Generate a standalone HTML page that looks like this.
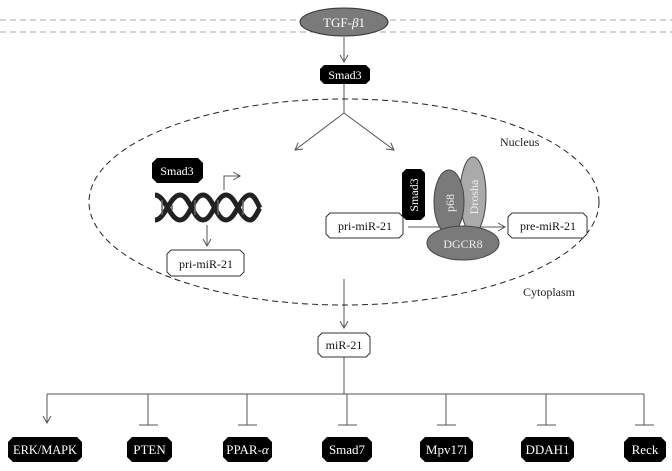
<!DOCTYPE html>
<html><head><style>body{margin:0;background:#fff}svg{display:block}text{font-family:"Liberation Serif",serif}</style></head><body>
<svg width="672" height="471" viewBox="0 0 672 471" xmlns="http://www.w3.org/2000/svg">
<defs>
<marker id="a" markerWidth="10" markerHeight="10" refX="8" refY="5" orient="auto" markerUnits="userSpaceOnUse"><path d="M1,1 L8,5 L1,9" fill="none" stroke="#555" stroke-width="1"/></marker>
</defs>
<g stroke="#aaa" stroke-dasharray="6,4" stroke-width="1"><line x1="0" y1="20" x2="672" y2="20"/><line x1="0" y1="32" x2="672" y2="32"/></g>
<ellipse cx="344" cy="22" rx="44" ry="14" fill="#7a7a7a" stroke="#333"/>
<text x="344" y="27" fill="#fff" font-size="13" text-anchor="middle">TGF-<tspan font-style="italic">β</tspan>1</text>
<g stroke="#555" fill="none" stroke-width="1">
<line x1="344" y1="37" x2="344" y2="62" marker-end="url(#a)"/>
<polyline points="344,84 344,113"/>
<line x1="344" y1="113" x2="295" y2="150" marker-end="url(#a)"/>
<line x1="344" y1="113" x2="394" y2="150" marker-end="url(#a)"/>
<polyline points="224,190 224,176 240,176" marker-end="url(#a)"/>
<line x1="207" y1="225" x2="207" y2="246" marker-end="url(#a)"/>
<line x1="408" y1="227" x2="505" y2="227" marker-end="url(#a)"/>
<line x1="344" y1="279" x2="344" y2="328" marker-end="url(#a)"/>
<polyline points="344,357 344,394"/>
<line x1="47" y1="394" x2="644" y2="394"/>
<line x1="47" y1="394" x2="47" y2="423" marker-end="url(#a)"/>
<g><line x1="148" y1="394" x2="148" y2="425"/><line x1="139" y1="425" x2="158" y2="425"/>
<line x1="247" y1="394" x2="247" y2="425"/><line x1="238" y1="425" x2="257" y2="425"/>
<line x1="347" y1="394" x2="347" y2="425"/><line x1="338" y1="425" x2="357" y2="425"/>
<line x1="446" y1="394" x2="446" y2="425"/><line x1="437" y1="425" x2="456" y2="425"/>
<line x1="546" y1="394" x2="546" y2="425"/><line x1="537" y1="425" x2="556" y2="425"/>
<line x1="644" y1="394" x2="644" y2="425"/><line x1="635" y1="425" x2="654" y2="425"/></g>
</g>
<ellipse cx="344" cy="202" rx="255" ry="103" fill="none" stroke="#222" stroke-dasharray="6,4"/>
<text x="500" y="146" font-size="12" fill="#222">Nucleus</text>
<text x="523" y="296" font-size="12" fill="#222">Cytoplasm</text>
<g fill="#000">
<path d="M324,65h42l4,4v11l-4,4h-42l-4,-4v-11z"/>
<path d="M157,158h41l5,5v15l-5,5h-41l-5,-5v-15z"/>
<path d="M406,169h15l4,4v43l-4,4h-15l-4,-4v-43z"/>
</g>
<text x="345" y="79" fill="#fff" font-size="12" text-anchor="middle">Smad3</text>
<text x="177" y="175" fill="#fff" font-size="12" text-anchor="middle">Smad3</text>
<text transform="translate(418,195) rotate(-90)" fill="#fff" font-size="12" text-anchor="middle">Smad3</text>
<g stroke="#222" stroke-width="5" fill="none">
<path d="M155,195 C165,195 170,220 180,220 C190,220 193,195 203,195 C213,195 216,220 226,220 C236,220 240,195 250,195 C255,195 258,205 260,208"/>
<path d="M155,220 C165,220 170,195 180,195 C190,195 193,220 203,220 C213,220 216,195 226,195 C236,195 240,220 250,220 C255,220 258,210 260,208"/>
</g>
<g stroke="#666" stroke-width="1.5" fill="none"><path d="M162,200v15M172,205v5M195,200v15M218,200v15M243,200v15"/></g>
<ellipse cx="473" cy="195" rx="13" ry="38" fill="#aaa" stroke="#444"/>
<ellipse cx="449" cy="202" rx="15" ry="32" fill="#7a7a7a" stroke="#444"/>
<ellipse cx="463" cy="243" rx="36" ry="17" fill="#7a7a7a" stroke="#444"/>
<text transform="translate(454,203) rotate(-90)" fill="#eee" font-size="12" text-anchor="middle">p68</text>
<text transform="translate(478,197) rotate(-90)" fill="#eee" font-size="12" text-anchor="middle">Drosha</text>
<text x="463" y="248" fill="#eee" font-size="12" text-anchor="middle">DGCR8</text>
<g fill="#fff" stroke="#333">
<path d="M171,250h69l4,4v18l-4,4h-69l-4,-4v-18z"/>
<path d="M330,213h69l4,4v17l-4,4h-69l-4,-4v-17z"/>
<path d="M512,213h71l4,4v17l-4,4h-71l-4,-4v-17z"/>
<path d="M322,333h44l4,4v16l-4,4h-44l-4,-4v-16z"/>
</g>
<g font-size="12" text-anchor="middle" fill="#111">
<text x="206" y="268">pri-miR-21</text>
<text x="365" y="230">pri-miR-21</text>
<text x="548" y="230">pre-miR-21</text>
<text x="344" y="349">miR-21</text>
</g>
<g fill="#000">
<path d="M13,437h64l5,5v15l-5,5h-64l-5,-5v-15z"/>
<path d="M132,437h35l5,5v15l-5,5h-35l-5,-5v-15z"/>
<path d="M228,437h39l5,5v15l-5,5h-39l-5,-5v-15z"/>
<path d="M327,437h40l5,5v15l-5,5h-40l-5,-5v-15z"/>
<path d="M425,437h43l5,5v15l-5,5h-43l-5,-5v-15z"/>
<path d="M526,437h43l5,5v15l-5,5h-43l-5,-5v-15z"/>
<path d="M629,437h32l5,5v15l-5,5h-32l-5,-5v-15z"/>
</g>
<g font-size="13" text-anchor="middle" fill="#fff">
<text x="45" y="454" textLength="64" lengthAdjust="spacingAndGlyphs">ERK/MAPK</text>
<text x="149.5" y="454">PTEN</text>
<text x="247.5" y="454">PPAR-<tspan font-style="italic">α</tspan></text>
<text x="347" y="454">Smad7</text>
<text x="446.5" y="454">Mpv17l</text>
<text x="547.5" y="454">DDAH1</text>
<text x="645" y="454">Reck</text>
</g>
</svg>
</body></html>
